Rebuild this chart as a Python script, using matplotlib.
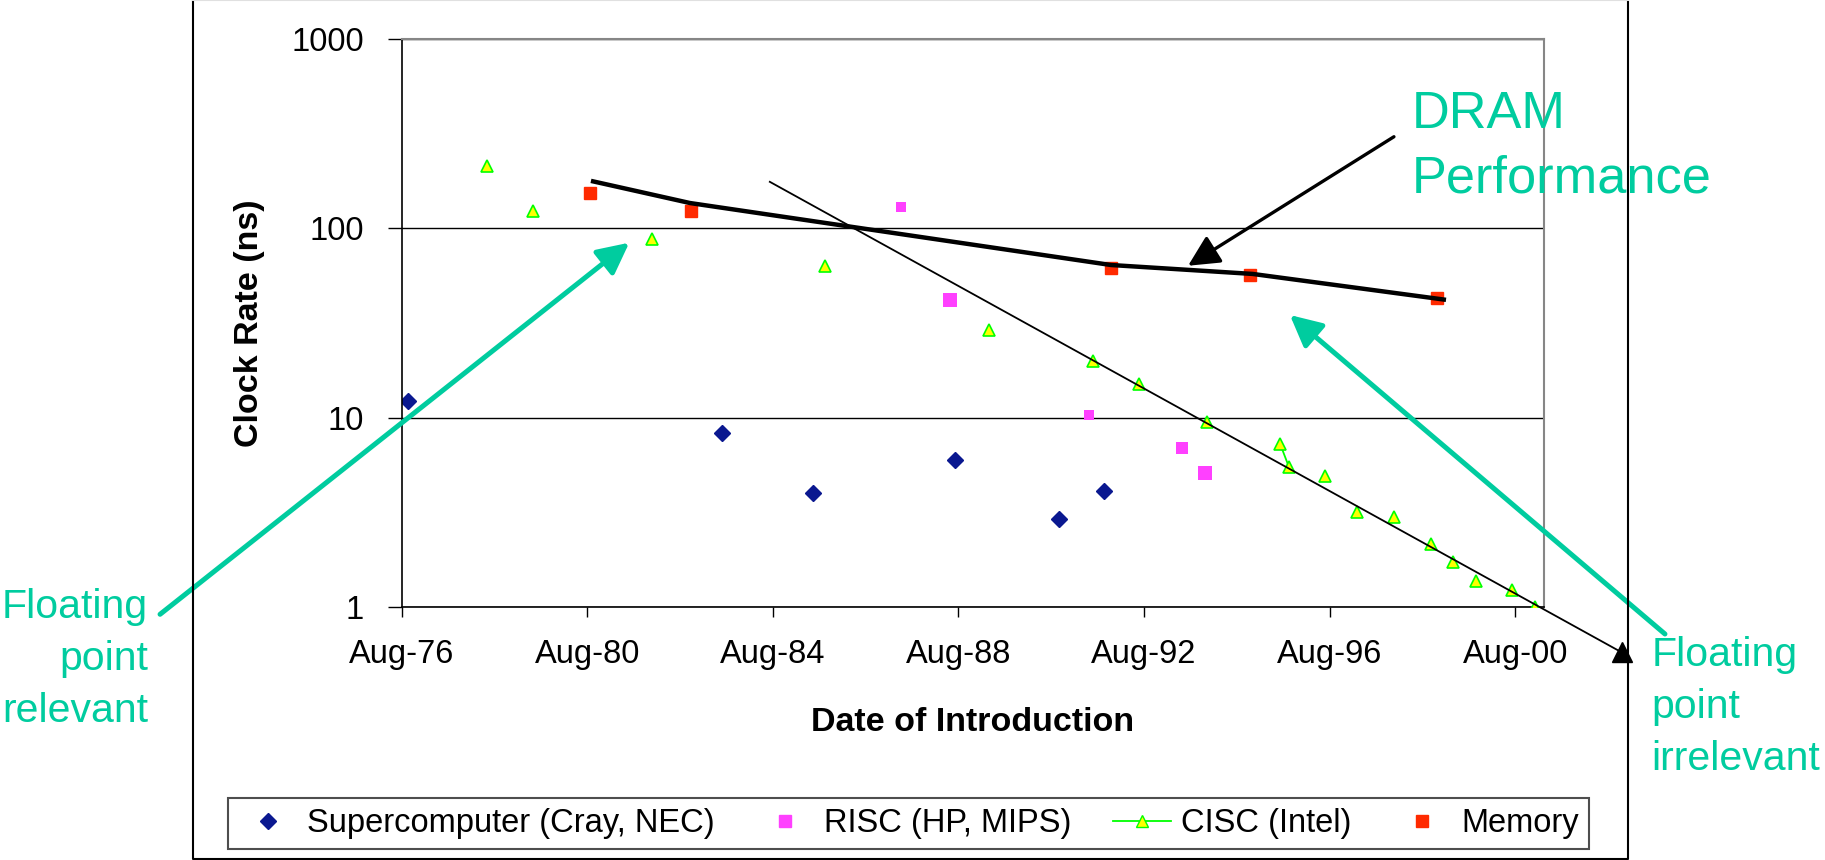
import matplotlib
matplotlib.use('Agg')
import matplotlib.pyplot as plt
import matplotlib.dates as mdates
from matplotlib.lines import Line2D
from matplotlib.patches import FancyArrowPatch
from matplotlib.ticker import FuncFormatter, NullLocator
import pandas as pd

plt.rcParams['font.family'] = ['Liberation Sans', 'DejaVu Sans']

# clock period (ns) by date of introduction
super_dates = ['1976-09-20', '1983-06-27', '1985-06-13', '1988-07-04', '1990-10-04', '1991-09-23']
super_ns = [12.3, 8.3, 4.0, 6.0, 2.9, 4.1]

risc_dates = ['1987-05-10', '1988-05-25', '1991-05-23', '1993-05-23', '1993-11-22']
risc_ns = [130, 42, 10.3, 6.9, 5.1]

cisc_dates = ['1978-06-07', '1979-06-01', '1981-12-20', '1985-09-15', '1989-03-27',
              '1991-06-27', '1992-06-24', '1993-12-13', '1995-07-07', '1995-09-15',
              '1996-06-27', '1997-03-07', '1997-12-20', '1998-10-04', '1999-03-27',
              '1999-09-29', '2000-07-10', '2001-01-06']
cisc_ns = [213, 123, 88, 63, 29, 20, 15, 9.5, 7.3, 5.5,
           4.9, 3.16, 3.0, 2.15, 1.72, 1.38, 1.23, 1.0]

mem_dates = ['1980-08-21', '1982-10-30', '1991-11-14', '1994-11-13', '1998-11-21']
mem_ns = [154, 124, 62, 57, 43]

# trend lines drawn over the points
dram_dates = ['1980-08-30', '1982-10-18', '1991-11-14', '1994-12-05', '1999-02-03']
dram_ns = [178, 136, 64, 57.4, 41.9]
cpu_trend_dates = ['1984-07-08', '2002-11-19']
cpu_trend_ns = [176, 0.575]

legend_labels = ['Supercomputer (Cray, NEC)', 'RISC (HP, MIPS)', 'CISC (Intel)', 'Memory']

TEAL = '#00CC9F'
NAVY = '#0a1890'
PINK = '#ff40ff'
RED = '#ff2a00'

d = pd.to_datetime

fig = plt.figure(figsize=(18.25, 8.6), dpi=100)
ax = fig.add_axes([0.2201, 0.2942, 0.6259, 0.6605])

ax.plot(d(super_dates), super_ns, ls='none', marker='D', ms=8.5, color=NAVY, mec=NAVY)
risc_px = [10, 14, 10, 12, 14]
ax.scatter(d(risc_dates), risc_ns, marker='s', s=[(p * 0.72) ** 2 for p in risc_px],
           color=PINK, linewidths=0, zorder=3)
ax.plot(d(cisc_dates), cisc_ns, ls='none', marker='^', ms=8.5, mfc='#ffff00',
        mec='#00ff00', mew=1.2, zorder=4)
ax.plot(d(cisc_dates[8:10]), cisc_ns[8:10], color='#00ff00', lw=1.3, zorder=3)
ax.plot(d(mem_dates), mem_ns, ls='none', marker='s', ms=8.5, color=RED, mec=RED, zorder=3)

ax.plot(d(dram_dates), dram_ns, color='black', lw=3.2, solid_capstyle='butt', zorder=5)
ax.plot(d(cpu_trend_dates), cpu_trend_ns, color='black', lw=1.3, clip_on=False, zorder=5)
ax.plot(d(cpu_trend_dates[-1:]), cpu_trend_ns[-1:], marker='^', ms=15, color='black',
        clip_on=False, zorder=6)

ax.set_yscale('log')
ax.set_ylim(1, 1000)
ax.set_xlim(d('1976-08-01'), d('2001-03-15'))
ax.yaxis.set_minor_locator(NullLocator())
ax.yaxis.set_major_formatter(FuncFormatter(lambda v, p: '%g' % v))
ax.xaxis.set_major_locator(mdates.YearLocator(base=4, month=8, day=1))
ax.xaxis.set_major_formatter(mdates.DateFormatter('%b-%y'))

ax.tick_params(axis='y', direction='out', length=10, width=1, pad=17, labelsize=23.5)
ax.tick_params(axis='x', direction='out', length=7, width=1, pad=16, labelsize=23.5)
ax.yaxis.grid(True, color='black', lw=1)
ax.set_axisbelow(True)
for side in ['left', 'bottom']:
    ax.spines[side].set_color('black')
    ax.spines[side].set_linewidth(1.2)
for side in ['top', 'right']:
    ax.spines[side].set_color('#868686')
    ax.spines[side].set_linewidth(1.5)

ax.set_xlabel('Date of Introduction', fontsize=24.5, fontweight='bold', labelpad=27)
ax.set_ylabel('Clock Rate (ns)', fontsize=24.5, fontweight='bold', labelpad=19)

handles = [
    Line2D([], [], ls='none', marker='D', ms=8, color=NAVY),
    Line2D([], [], ls='none', marker='s', ms=9, color=PINK),
    Line2D([], [], color='#00ff00', lw=1.3, marker='^', ms=8.5, mfc='#ffff00', mec='#00ff00'),
    Line2D([], [], ls='none', marker='s', ms=9, color=RED),
]
leg = fig.legend(handles, legend_labels, loc='center', ncol=4,
                 bbox_to_anchor=(0.4978, 0.0424), bbox_transform=fig.transFigure,
                 fontsize=23.5, frameon=True, fancybox=False, borderpad=0.3,
                 handlelength=1.8, handletextpad=0.3, columnspacing=1.26,
                 borderaxespad=0)
leg.get_frame().set_edgecolor('#222222')
leg.get_frame().set_linewidth(1.5)

# outer chart border (top edge runs off the page)
x0, x1, y0 = 0.1059, 0.8922, 0.0012
fig.add_artist(Line2D([x0, x0, x1, x1], [1, y0, y0, 1], transform=fig.transFigure,
                      color='black', lw=1.5))
fig.add_artist(Line2D([x0, x1], [0.9995, 0.9995], transform=fig.transFigure,
                      color='#e0e0e0', lw=1.5))

# callouts
fig.text(0.0811, 0.1608, 'Floating\npoint\nrelevant', color=TEAL, fontsize=29.5,
         ha='right', va='baseline', multialignment='right', linespacing=1.47)
fig.text(0.9050, 0.1047, 'Floating\npoint\nirrelevant', color=TEAL, fontsize=29.5,
         ha='left', va='baseline', linespacing=1.47)
fig.text(0.7735, 0.7756, 'DRAM\nPerformance', color=TEAL, fontsize=37.7,
         ha='left', va='baseline', linespacing=1.42)

head = '-|>,head_length=1.9,head_width=0.95'
fig.add_artist(FancyArrowPatch((0.0877, 0.2857), (0.3448, 0.7178), transform=fig.transFigure,
                               arrowstyle=head, color=TEAL, lw=3.6, mutation_scale=10,
                               shrinkA=0, shrinkB=0))
fig.add_artist(FancyArrowPatch((0.9123, 0.2628), (0.7068, 0.6337), transform=fig.transFigure,
                               arrowstyle=head, color=TEAL, lw=3.6, mutation_scale=10,
                               shrinkA=0, shrinkB=0))
fig.add_artist(FancyArrowPatch((0.7638, 0.8410), (0.6510, 0.6910), transform=fig.transFigure,
                               arrowstyle=head, color='black', lw=2.4, mutation_scale=10,
                               shrinkA=0, shrinkB=0))

fig.savefig('out.png', dpi=100)
